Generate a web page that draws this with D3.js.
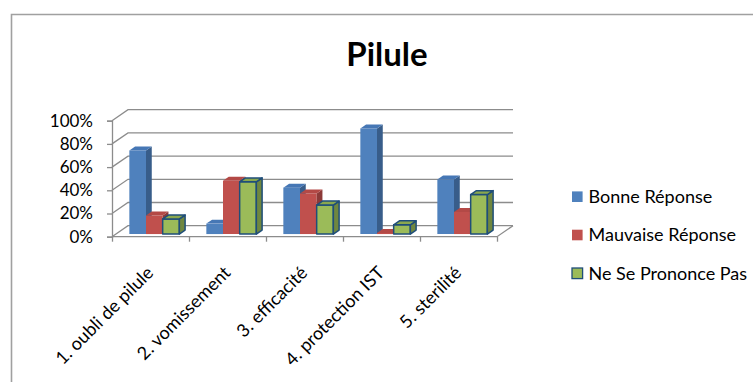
<!DOCTYPE html>
<html>
<head>
<meta charset="utf-8">
<script src="https://cdn.jsdelivr.net/npm/d3@7"></script>
<style>
  html, body { margin: 0; padding: 0; background: #fff; }
  svg { display: block; }
  text { font-family: Lato, "Open Sans", sans-serif; fill: #000; }
</style>
</head>
<body>
<svg id="chart" width="753" height="382"></svg>
<script>
// Survey answers about the pill, in percent of respondents
const categories = ["1. oubli de pilule", "2. vomissement", "3. efficacité", "4. protection IST", "5. sterilité"];
const seriesNames = ["Bonne Réponse", "Mauvaise Réponse", "Ne Se Prononce Pas"];
const bonneReponse = [72, 9, 40, 91, 47];
const mauvaiseReponse = [16, 46, 35, 1, 19];
const neSePrononcePas = [13, 45, 25, 8, 34];
const yTicks = [0, 20, 40, 60, 80, 100];

const seriesValues = [bonneReponse, mauvaiseReponse, neSePrononcePas];

// face colours per series: front, side, top, outline
const palette = [
  { front: "#4f81bd", side: "#385d8a", top: "#4677b5", stroke: "none" },
  { front: "#c0504d", side: "#8c3a38", top: "#b34946", stroke: "none" },
  { front: "#9bbb59", side: "#6f873f", top: "#8aa84e", stroke: "#1f4e79" }
];

const svg = d3.select("#chart");

// chart frame
svg.append("path")
  .attr("d", "M11.5,382 L11.5,14.5 L753,14.5")
  .attr("fill", "none").attr("stroke", "#a0a0a0").attr("stroke-width", 1.6);

// floor extent and depth offset of the oblique view
const floorLeft = 112, floorRight = 497;
const DX = 16, DY = -11;
const P = (x, y, d) => [x + DX * d, y + DY * d];

const x0 = d3.scaleBand().domain(categories).range([floorLeft, floorRight]).paddingInner(0).paddingOuter(0);
const x1 = d3.scaleBand().domain(seriesNames).range([13.5, x0.bandwidth() - 13.5]).padding(0);
const y = d3.scaleLinear().domain([0, 100]).range([236.7, 120.7]);

const gridColor = "#8c8c8c";
const grid = svg.append("g").attr("fill", "none").attr("stroke", gridColor).attr("stroke-width", 1.3);

// gridlines on side wall and back wall
yTicks.forEach(t => {
  const a = P(floorLeft, y(t), 0), b = P(floorLeft, y(t), 1), c = P(floorRight, y(t), 1);
  grid.append("path").attr("d", `M${a}L${b}L${c}`);
});
// floor front edge and right edge
{
  const a = P(floorLeft, y(0), 0), b = P(floorRight, y(0), 0), c = P(floorRight, y(0), 1);
  grid.append("path").attr("d", `M${a}L${b}L${c}`);
}

// value axis on the front-left edge
const yAxis = svg.append("g")
  .attr("transform", `translate(${floorLeft},0)`)
  .call(d3.axisLeft(y).tickValues(yTicks).tickFormat(d => d + "%").tickSize(5).tickPadding(14));
yAxis.select(".domain").attr("stroke", gridColor).attr("stroke-width", 1.3);
yAxis.selectAll(".tick line").attr("stroke", gridColor).attr("stroke-width", 1.3);
yAxis.selectAll(".tick text").style("font-size", "17px").style("font-family", "Lato, sans-serif").attr("fill", "#000");

// category tick marks between categories
const boundary = d3.scaleLinear().domain([0, categories.length]).range([floorLeft, floorRight]);
const xAxis = svg.append("g")
  .attr("transform", `translate(0,${y(0)})`)
  .call(d3.axisBottom(boundary).ticks(categories.length).tickFormat("").tickSize(5));
xAxis.select(".domain").remove();
xAxis.selectAll(".tick line").attr("stroke", gridColor).attr("stroke-width", 1.3);

// category labels, slanted
svg.append("g").selectAll("text")
  .data(categories)
  .join("text")
  .attr("transform", d => `translate(${x0(d) + x0.bandwidth() / 2 + 4},274) rotate(-45)`)
  .attr("text-anchor", "end")
  .style("font-size", "18px")
  .text(d => d);

// 3D columns
const d0 = 0.24, d1 = 0.6;
const bars = svg.append("g");
categories.forEach((cat, ci) => {
  seriesNames.forEach((s, si) => {
    const v = seriesValues[si][ci];
    const col = palette[si];
    const xl = x0(cat) + x1(s), xr = xl + x1.bandwidth();
    const yb = y(0), yt = y(v);
    const fl = P(xl, yt, d0), fr = P(xr, yt, d0), brb = P(xr, yb, d0);
    const fbl = P(xl, yb, d0);
    const bl = P(xl, yt, d1), br = P(xr, yt, d1), bbr = P(xr, yb, d1);
    const g = bars.append("g")
      .attr("stroke", col.stroke)
      .attr("stroke-width", col.stroke === "none" ? 0 : 1.5)
      .attr("stroke-linejoin", "round");
    g.append("path").attr("fill", col.front).attr("d", `M${fl}L${fr}L${brb}L${fbl}Z`);
    g.append("path").attr("fill", col.side).attr("d", `M${fr}L${br}L${bbr}L${brb}Z`);
    g.append("path").attr("fill", col.top).attr("d", `M${fl}L${bl}L${br}L${fr}Z`);
  });
});

// title
svg.append("text")
  .attr("x", 387).attr("y", 66)
  .attr("text-anchor", "middle")
  .style("font-size", "33px").style("font-weight", "bold")
  .text("Pilule");

// legend
const legend = svg.append("g").attr("transform", "translate(572,0)");
const legendY = [196.7, 235, 273.3];
seriesNames.forEach((s, i) => {
  const row = legend.append("g").attr("transform", `translate(0,${legendY[i]})`);
  row.append("rect")
    .attr("x", 0).attr("y", -5.3).attr("width", 10.6).attr("height", 10.6)
    .attr("fill", palette[i].front)
    .attr("stroke", palette[i].stroke === "none" ? "none" : palette[i].stroke)
    .attr("stroke-width", 1.3);
  row.append("text")
    .attr("x", 16.5).attr("y", 0).attr("dy", "0.35em")
    .style("font-size", "18px")
    .text(s);
});
</script>
</body>
</html>
